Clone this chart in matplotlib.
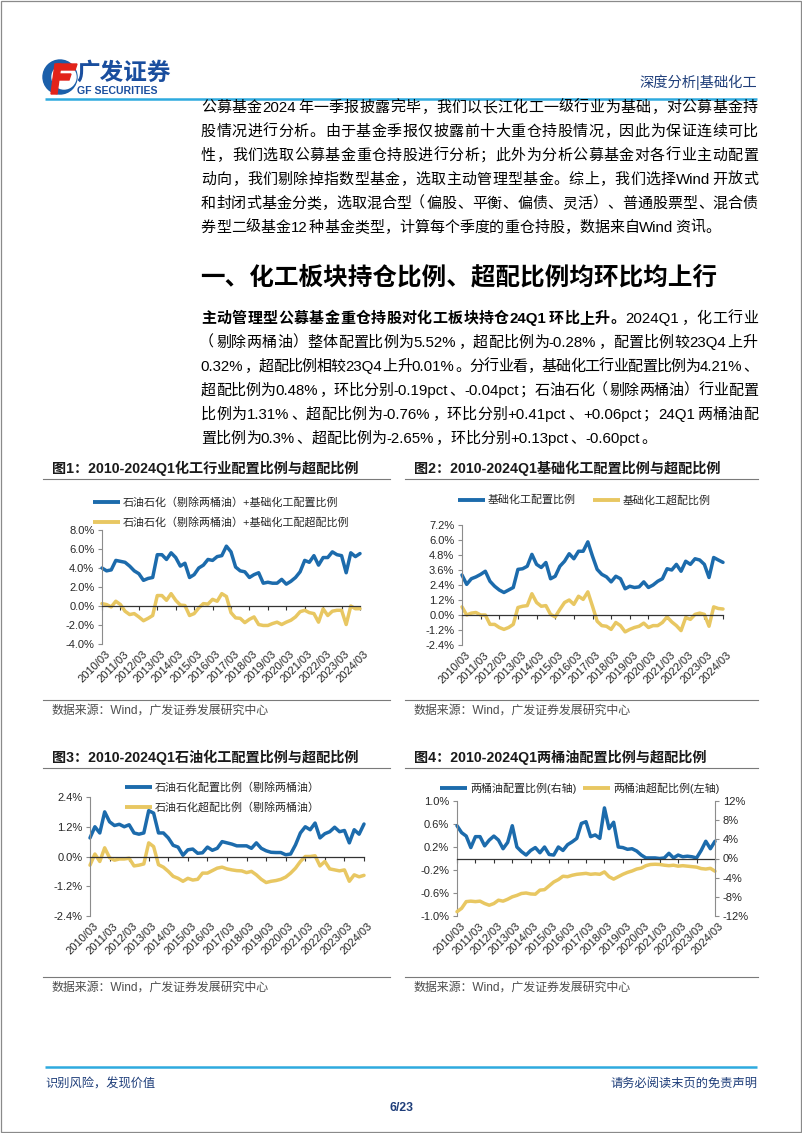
import matplotlib
matplotlib.use('Agg')
import matplotlib.pyplot as plt
import matplotlib.transforms as mtrans
from matplotlib.patches import Rectangle, Polygon, Circle
import numpy as np

W, H = 802, 1133
FAM = ['Liberation Sans', 'Noto Sans CJK SC']
plt.rcParams['font.family'] = FAM
plt.rcParams['axes.unicode_minus'] = False

# ---------------- data ----------------
quarters = [f"{y}/{m:02d}" for y in range(2010, 2025) for m in (3, 6, 9, 12)][:57]
year_ticks = ["2010/03", "2011/03", "2012/03", "2013/03", "2014/03", "2015/03", "2016/03",
              "2017/03", "2018/03", "2019/03", "2020/03", "2021/03", "2022/03", "2023/03", "2024/03"]

chem_alloc = [4.0, 3.7, 3.8, 4.8, 4.7, 4.6, 4.2, 3.7, 3.4, 2.7, 2.9, 3.0, 5.4, 5.4, 4.9, 5.6, 5.1, 4.2, 4.5,
              3.0, 3.3, 4.0, 4.3, 4.9, 4.8, 5.2, 5.3, 6.3, 5.7, 4.1, 3.7, 3.6, 3.0, 3.3, 3.5, 2.4, 2.5, 2.4,
              2.4, 2.8, 2.3, 2.6, 3.0, 3.6, 4.8, 4.6, 5.3, 4.3, 5.1, 5.1, 5.7, 5.4, 5.3, 3.5, 5.6, 5.2, 5.52]
chem_over = [0.25, 0.15, -0.1, 0.5, 0.15, -0.55, -0.9, -0.8, -1.15, -1.55, -1.3, -1.0, 1.1, 1.1, 0.6, 1.3,
             0.6, 0.1, 0.05, -1.0, -0.8, -0.2, 0.25, 0.2, 0.7, 0.5, 1.3, 1.0, -0.7, -1.25, -1.3, -1.75,
             -1.4, -1.15, -1.95, -2.05, -2.05, -1.85, -1.7, -1.95, -1.7, -1.5, -1.15, -0.6, -0.45, -0.7,
             -0.8, -1.7, -0.3, -1.0, -0.55, -0.45, -0.45, -1.95, 0.0, -0.29, -0.28]
basic_alloc = [3.2, 2.45, 2.9, 3.05, 3.25, 3.5, 2.7, 2.3, 2.0, 1.8, 2.0, 2.2, 3.65, 3.7, 3.9, 4.85, 4.05,
               3.8, 4.2, 2.9, 3.1, 3.9, 4.3, 4.9, 4.5, 5.1, 5.1, 5.85, 4.7, 3.65, 3.25, 3.05, 2.65, 3.1,
               2.9, 2.1, 2.3, 2.2, 2.25, 2.65, 2.2, 2.4, 2.7, 2.9, 3.7, 3.6, 4.05, 3.5, 4.3, 4.05, 4.5,
               4.4, 4.05, 3.0, 4.6, 4.4, 4.21]
basic_over = [0.65, 0.0, 0.15, 0.2, 0.0, 0.0, -0.75, -0.75, -1.0, -1.15, -1.0, -0.75, 0.6, 0.7, 0.75, 1.7,
              1.0, 0.7, 0.75, 0.05, -0.15, 0.45, 1.0, 1.2, 0.85, 1.5, 1.25, 1.85, 0.7, -0.5, -0.85, -0.9,
              -1.15, -0.6, -0.85, -1.35, -1.15, -1.0, -0.9, -0.65, -1.0, -0.85, -0.85, -0.6, -0.15, -0.55,
              -0.85, -1.25, -0.2, -0.35, 0.05, 0.15, 0.05, -0.9, 0.65, 0.52, 0.48]
petro_alloc = [0.75, 1.2, 0.95, 1.8, 1.4, 1.25, 1.3, 1.2, 1.28, 0.95, 0.9, 0.95, 1.85, 1.75, 0.95, 0.95,
               0.75, 0.45, 0.38, 0.05, 0.27, 0.3, 0.13, 0.15, 0.38, 0.25, 0.33, 0.6, 0.55, 0.5, 0.43, 0.43,
               0.43, 0.33, 0.55, 0.33, 0.23, 0.17, 0.16, 0.16, 0.07, 0.1, 0.47, 0.95, 1.2, 1.08, 1.35,
               0.75, 0.92, 1.0, 1.18, 1.0, 1.05, 0.55, 1.08, 0.9, 1.31]
petro_over = [-0.35, 0.1, -0.2, 0.35, -0.05, -0.15, -0.1, -0.1, -0.07, -0.38, -0.35, -0.3, 0.55, 0.4,
              -0.33, -0.43, -0.6, -0.8, -0.88, -1.0, -0.88, -0.95, -0.92, -0.67, -0.67, -0.57, -0.47,
              -0.43, -0.5, -0.54, -0.57, -0.58, -0.65, -0.6, -0.74, -0.92, -1.05, -1.0, -0.97, -0.92,
              -0.83, -0.67, -0.47, -0.2, 0.0, 0.0, 0.03, -0.38, -0.2, -0.5, -0.54, -0.58, -0.54, -1.0,
              -0.74, -0.82, -0.76]
oil_alloc = [0.57, 0.45, 0.39, 0.19, 0.38, 0.38, 0.22, 0.32, 0.39, 0.32, 0.17, 0.28, 0.57, 0.2, 0.12,
             0.06, 0.14, 0.19, 0.1, 0.2, 0.07, 0.06, 0.2, 0.14, 0.24, 0.29, 0.35, 0.61, 0.64, 0.38, 0.41,
             0.35, 0.88, 0.52, 0.63, 0.2, 0.19, 0.16, 0.17, 0.13, 0.06, 0.01, 0.01, 0.01, 0.0, 0.01, 0.09,
             0.01, 0.06, 0.03, 0.04, 0.03, 0.01, 0.14, 0.3, 0.17, 0.3]
oil_over = [-11.1, -10.4, -9.0, -8.9, -9.0, -8.9, -9.4, -9.75, -9.4, -8.7, -8.9, -8.5, -8.0, -7.7, -7.3,
            -7.2, -7.4, -7.45, -6.6, -6.5, -5.7, -4.9, -4.4, -3.7, -3.8, -3.5, -3.3, -3.2, -3.1, -3.3,
            -3.2, -3.3, -2.8, -3.8, -4.3, -3.8, -3.3, -2.9, -2.6, -2.2, -2.0, -1.5, -1.25, -1.2, -1.25,
            -1.4, -1.5, -1.4, -1.6, -1.5, -1.6, -1.7, -1.8, -2.1, -2.2, -2.05, -2.65]

BLUE = '#1C6BAC'
GOLD = '#E8C762'
NAVY = '#1F3E7A'
CYAN = '#2EAADF'
LW = 2.5

# ---------------- figure ----------------
fig = plt.figure(figsize=(W / 100, H / 100), dpi=100)
page = fig.add_axes([0, 0, 1, 1])
page.set_xlim(0, W)
page.set_ylim(H, 0)
page.axis('off')
renderer = fig.canvas.get_renderer()

page.add_patch(Rectangle((0.5, 0.5), W - 1.5, H - 1.5, fill=False, ec='#8A8A8A', lw=0.9))

# header / logo
page.add_patch(Circle((60, 77), 17, color='#1B5FAA'))
page.add_patch(Circle((64, 77), 12, color='white'))
page.add_patch(Polygon([[57, 64], [77, 64], [75, 70], [55, 70]], closed=True, color='#E2231A'))
page.add_patch(Polygon([[55, 74], [71, 74], [69, 80], [53, 80]], closed=True, color='#E2231A'))
page.add_patch(Polygon([[55, 64], [61, 64], [57, 94], [51, 94]], closed=True, color='#E2231A'))
page.text(76, 73, '广发证券', fontsize=17, fontweight='bold', color='#1A4E9E', va='center', ha='left')
page.text(77, 91, 'GF SECURITIES', fontsize=7.6, fontweight='bold', color='#1A4E9E', va='center', ha='left')
page.text(757, 82, '深度分析|基础化工', fontsize=10.3, color=NAVY, va='center', ha='right')
page.plot([45, 757], [99, 99], color=CYAN, lw=1.8, solid_capstyle='butt')

# footer
page.plot([45, 757], [1067, 1067], color=CYAN, lw=1.8, solid_capstyle='butt')
page.text(45, 1084, '识别风险，发现价值', fontsize=8.8, color=NAVY, va='center', ha='left')
page.text(757, 1084, '请务必阅读末页的免责声明', fontsize=8.8, color=NAVY, va='center', ha='right')
page.text(401, 1108, '6/23', fontsize=8.8, fontweight='bold', color=NAVY, va='center', ha='center')

# ---------------- justified body text ----------------
OPEN = set('（“‘《【')


def is_ascii(c):
    return ord(c) < 128


def tokens_of(segments):
    toks = []
    for text, weight in segments:
        buf = ''
        for c in text:
            if is_ascii(c):
                buf += c
            else:
                if buf:
                    toks.append((buf, weight))
                    buf = ''
                toks.append((c, weight))
        if buf:
            toks.append((buf, weight))
    return toks


def draw_line(segments, x0, x1, yc, size, justify=True, color='black'):
    em = size * 100 / 72
    yb = yc + 0.38 * em
    items = []
    for s, w in tokens_of(segments):
        if is_ascii(s[0]):
            core = s.rstrip(' ')
            t = page.text(0, yb, core, fontsize=size, fontweight=w, color=color, ha='left', va='baseline')
            wd = t.get_window_extent(renderer).width + 0.1 * em + 0.28 * em * (len(s) - len(core))
            items.append((t, wd, 'a'))
        else:
            ha = 'right' if s in OPEN else 'left'
            t = page.text(0, yb, s, fontsize=size, fontweight=w, color=color, ha=ha, va='baseline')
            items.append((t, em, 'c'))
    total = sum(i[1] for i in items)
    n = len(items)
    gap = (x1 - x0 - total) / (n - 1) if (justify and n > 1) else 0.0
    x = x0
    for t, wd, kind in items:
        if kind == 'c':
            if t.get_ha() == 'right':
                t.set_x(x + wd * 0.93)
            else:
                t.set_x(x + wd * 0.06)
        else:
            t.set_x(x + 0.05 * em)
        x += wd + gap


TX0, TX1 = 200, 757
BODY = 10.8
para1 = [
    "公募基金2024年一季报披露完毕，我们以长江化工一级行业为基础，对公募基金持",
    "股情况进行分析。由于基金季报仅披露前十大重仓持股情况，因此为保证连续可比",
    "性，我们选取公募基金重仓持股进行分析；此外为分析公募基金对各行业主动配置",
    "动向，我们剔除掉指数型基金，选取主动管理型基金。综上，我们选择Wind开放式",
    "和封闭式基金分类，选取混合型（偏股、平衡、偏债、灵活）、普通股票型、混合债",
    "券型二级基金12种基金类型，计算每个季度的重仓持股，数据来自Wind资讯。",
]
for k, line in enumerate(para1):
    draw_line([(line, 'normal')], TX0, TX1, 106 + 24 * k, BODY, justify=(k < len(para1) - 1))

page.text(TX0, 278, '一、化工板块持仓比例、超配比例均环比均上行', fontsize=17.7, fontweight='bold',
          color='black', va='center', ha='left')

para2 = [
    [("主动管理型公募基金重仓持股对化工板块持仓24Q1环比上升。", 'bold'), ("2024Q1，化工行业", 'normal')],
    [("（剔除两桶油）整体配置比例为5.52%，超配比例为-0.28%，配置比例较23Q4上升", 'normal')],
    [("0.32%，超配比例相较23Q4上升0.01%。分行业看，基础化工行业配置比例为4.21%、", 'normal')],
    [("超配比例为0.48%，环比分别-0.19pct、-0.04pct；石油石化（剔除两桶油）行业配置", 'normal')],
    [("比例为1.31%、超配比例为-0.76%，环比分别+0.41pct、+0.06pct；24Q1两桶油配", 'normal')],
    [("置比例为0.3%、超配比例为-2.65%，环比分别+0.13pct、-0.60pct。", 'normal')],
]
for k, segs in enumerate(para2):
    draw_line(segs, TX0, TX1, 317 + 24 * k, BODY, justify=(k < len(para2) - 1))


# ---------------- charts ----------------
def axes_px(x0, y0, x1, y1):
    return fig.add_axes([x0 / W, 1 - y1 / H, (x1 - x0) / W, (y1 - y0) / H])


def frame(x0, x1, ytitle, yline, ybottom, title):
    page.text(x0 + 9, ytitle, title, fontsize=10.2, fontweight='bold', color='#1A1A1A', va='center', ha='left')
    page.plot([x0, x1], [yline, yline], color='#7A7A7A', lw=0.8)
    page.plot([x0, x1], [ybottom, ybottom], color='#7A7A7A', lw=0.8)
    page.text(x0 + 9, ybottom + 11, '数据来源：Wind，广发证券发展研究中心', fontsize=8.6, color='#4D4D4D',
              va='center', ha='left')


def legend_item(x, y, color, label):
    page.plot([x, x + 27], [y, y], color=color, lw=2.8, solid_capstyle='butt')
    page.text(x + 30, y, label, fontsize=7.9, color='#262626', va='center', ha='left')


def style_axes(ax, ylim, yticks, fmt):
    x = np.arange(len(quarters))
    ax.set_facecolor('none')
    ax.set_xlim(0, len(quarters) - 1)
    ax.set_ylim(*ylim)
    ax.set_yticks(yticks)
    ax.set_yticklabels([fmt.format(v) for v in yticks])
    ax.spines['top'].set_visible(False)
    ax.spines['right'].set_visible(False)
    ax.spines['left'].set_color('#8C8C8C')
    ax.spines['left'].set_linewidth(0.8)
    ax.spines['bottom'].set_position(('data', 0))
    ax.spines['bottom'].set_color('#333333')
    ax.spines['bottom'].set_linewidth(0.9)
    ax.set_xticks(x[::4])
    ax.tick_params(axis='x', direction='out', length=3, width=0.8, color='#333333', labelbottom=False)
    ax.tick_params(axis='y', direction='out', length=3, width=0.8, color='#8C8C8C', labelsize=8,
                   labelcolor='#262626', pad=2.5)
    tr = mtrans.offset_copy(ax.get_xaxis_transform(), fig=fig, x=3, y=-5, units='dots')
    for xi, lab in zip(x[::4], year_ticks):
        ax.text(xi, 0, lab, transform=tr, rotation=45, ha='right', va='top', rotation_mode='anchor',
                fontsize=8, color='#262626')
    return x


def draw(ax, x, vals, color):
    ax.plot(x, vals, color=color, lw=LW, clip_on=False, solid_joinstyle='round', solid_capstyle='round')


# Chart 1
frame(43, 390, 468, 479, 700, '图1：2010-2024Q1化工行业配置比例与超配比例')
ax1 = axes_px(102, 530, 360, 644)
xq = style_axes(ax1, (-4, 8), [-4, -2, 0, 2, 4, 6, 8], '{:.1f}%')
draw(ax1, xq, chem_alloc, BLUE)
draw(ax1, xq, chem_over, GOLD)
legend_item(93, 502, BLUE, '石油石化（剔除两桶油）+基础化工配置比例')
legend_item(93, 522, GOLD, '石油石化（剔除两桶油）+基础化工配超配比例')

# Chart 2
frame(405, 758, 468, 479, 700, '图2：2010-2024Q1基础化工配置比例与超配比例')
ax2 = axes_px(462, 525, 723, 645)
xq = style_axes(ax2, (-2.4, 7.2), [-2.4, -1.2, 0, 1.2, 2.4, 3.6, 4.8, 6.0, 7.2], '{:.1f}%')
draw(ax2, xq, basic_alloc, BLUE)
draw(ax2, xq, basic_over, GOLD)
legend_item(458, 500, BLUE, '基础化工配置比例')
legend_item(593, 500, GOLD, '基础化工超配比例')

# Chart 3
frame(43, 390, 757, 768, 977, '图3：2010-2024Q1石油化工配置比例与超配比例')
ax3 = axes_px(90, 797, 364, 916)
xq = style_axes(ax3, (-2.4, 2.4), [-2.4, -1.2, 0, 1.2, 2.4], '{:.1f}%')
draw(ax3, xq, petro_alloc, BLUE)
draw(ax3, xq, petro_over, GOLD)
legend_item(125, 787, BLUE, '石油石化配置比例（剔除两桶油）')
legend_item(125, 807, GOLD, '石油石化超配比例（剔除两桶油）')

# Chart 4
frame(405, 758, 757, 768, 977, '图4：2010-2024Q1两桶油配置比例与超配比例')
ax4 = axes_px(457, 801, 715, 916)
xq = style_axes(ax4, (-1.0, 1.0), [-1.0, -0.6, -0.2, 0.2, 0.6, 1.0], '{:.1f}%')
ax4r = ax4.twinx()
ax4r.set_facecolor('none')
ax4r.set_ylim(-12, 12)
rticks = [-12, -8, -4, 0, 4, 8, 12]
ax4r.set_yticks(rticks)
ax4r.set_yticklabels(['{:.0f}%'.format(v) for v in rticks])
for s in ('top', 'left', 'bottom'):
    ax4r.spines[s].set_visible(False)
ax4r.spines['right'].set_color('#8C8C8C')
ax4r.spines['right'].set_linewidth(0.8)
ax4r.tick_params(axis='y', direction='out', length=3, width=0.8, color='#8C8C8C', labelsize=8,
                 labelcolor='#262626', pad=2.5)
draw(ax4, xq, oil_alloc, BLUE)
draw(ax4r, xq, oil_over, GOLD)
legend_item(440, 788, BLUE, '两桶油配置比例(右轴)')
legend_item(583, 788, GOLD, '两桶油超配比例(左轴)')

fig.savefig('out.png', dpi=100)
